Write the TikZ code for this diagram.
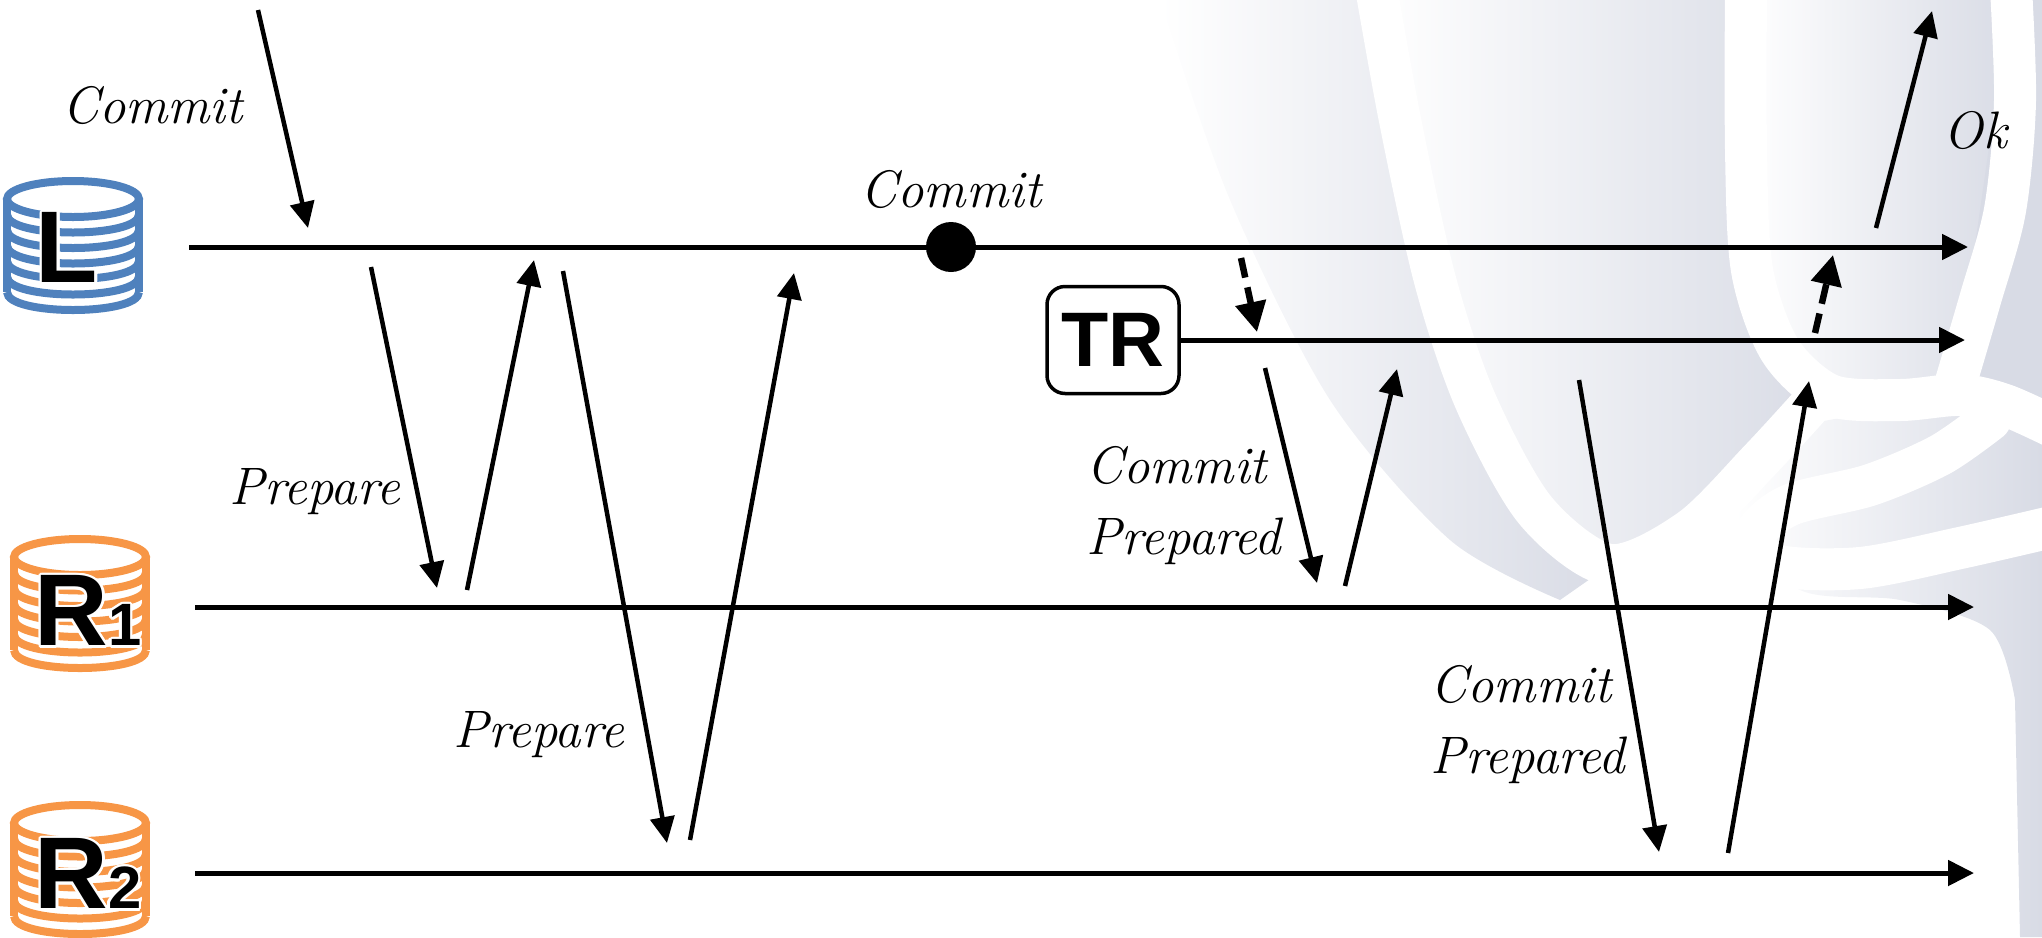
\documentclass[tikz,border=0pt]{standalone}
\usepackage{fontspec}
\newfontfamily\iconfont{Liberation Sans}
\usepackage{contour}
\contourlength{0.25mm}
\usetikzlibrary{arrows.meta,positioning}

\definecolor{dbblue}{RGB}{79,129,189}
\definecolor{dborange}{RGB}{247,150,70}
\definecolor{elegray}{RGB}{216,219,229}

\newcommand\dbfont{\iconfont\bfseries\fontsize{29}{29}\selectfont}
\newcommand\idx[1]{{\fontsize{17}{17}\selectfont #1}}

% stack of discs: top centre x, top centre y, colour
\newcommand\diskstack[3]{%
  \begin{scope}[shift={(#1,#2)}, color=#3, line width=0.8mm]
    \draw (-66,0) -- (-66,93) (66,0) -- (66,93);
    \foreach \k in {1,...,6}
      \draw (-66,15.5*\k) .. controls (-66,15.5*\k+24) and (66,15.5*\k+24) .. (66,15.5*\k);
    \draw[fill=white] (0,0) ellipse [x radius=66, y radius=18];
  \end{scope}}

\tikzset{
  lane/.style={line width=0.5mm, -{Triangle[length=2.6mm,width=2.5mm]}},
  msg/.style={line width=0.45mm, -{Triangle[length=2.6mm,width=2.4mm]}},
  ack/.style={line width=0.65mm, dash pattern=on 2mm off 1mm, -{Triangle[length=3mm,width=3mm]}},
  hand/.style={font=\fontsize{15}{20}\selectfont\itshape, inner sep=2pt, align=left},
  band/.style={draw=white, line width=4.2mm, line cap=round},
}

\begin{document}
\begin{tikzpicture}[x=0.1mm,y=-0.1mm]
  \useasboundingbox (0,0) rectangle (2042,937);

  % faded elephant in the back
  \begin{scope}
    \shade[left color=white, right color=elegray]
      plot[smooth] coordinates {(1373,0) (1400,120) (1435,280) (1475,400) (1535,510) (1610,565)}
      -- plot[smooth] coordinates {(1560,600) (1450,540) (1330,400) (1230,200) (1160,0)} -- cycle;
    \shade[left color=white, right color=elegray]
      plot[smooth] coordinates {(1373,0) (1400,120) (1435,280) (1475,400) (1535,510) (1610,565) (1690,530) (1760,460) (1815,400)}
      -- plot[smooth] coordinates {(1830,395) (1780,350) (1752,270) (1746,150) (1746,0)} -- cycle;
    \shade[left color=white, right color=elegray]
      plot[smooth] coordinates {(1746,0) (1746,150) (1752,270) (1780,350) (1830,395) (1900,400) (1955,385)}
      -- plot[smooth] coordinates {(1980,300) (2005,210) (2015,100) (2010,0)} -- cycle;
    \fill[elegray] (2010,0) -- (2042,0) -- (2042,430) -- (1955,385) -- cycle;
    \shade[left color=white, right color=elegray]
      plot[smooth] coordinates {(1780,430) (1900,410) (2042,420)}
      -- (2042,937) -- (2020,937)
      -- plot[smooth] coordinates {(2015,700) (1990,630) (1900,600) (1800,590) (1735,520)} -- cycle;

    \draw[band] plot[smooth] coordinates {(1373,-30) (1400,120) (1435,280) (1475,400) (1535,510) (1610,565) (1690,530) (1760,460) (1815,400)};
    \draw[band] plot[smooth] coordinates {(1746,-30) (1746,150) (1752,270) (1780,350) (1830,395) (1900,400) (1960,395) (2005,405) (2060,430)};
    \draw[band] plot[smooth] coordinates {(2010,-30) (2015,100) (2005,210) (1980,300) (1955,385)};
    \draw[band] plot[smooth] coordinates {(1990,420) (1940,455) (1870,485) (1790,505) (1755,535) (1775,565) (1860,568) (1960,548) (2060,525)};
  \end{scope}

  % databases
  \diskstack{73}{199}{dbblue}
  \diskstack{80}{557}{dborange}
  \diskstack{80}{823}{dborange}

  \begin{scope}[every node/.style={font=\dbfont, inner sep=0pt}]
    \node (L)  at (67,249) {\contour{white}{L}};
    \node (R1) at (88,612) {\contour{white}{R\idx{1}}};
    \node (R2) at (88,875) {\contour{white}{R\idx{2}}};
  \end{scope}

  \node[draw, rounded corners=1.8mm, line width=0.35mm, minimum width=13.2mm, minimum height=10.7mm,
        font=\iconfont\bfseries\fontsize{22}{22}\selectfont] (TR) at (1113,340) {TR};

  % lanes
  \coordinate (Lin)  at (189,247);  \coordinate (Lout)  at (1968,247);
  \coordinate (R1in) at (195,607);  \coordinate (R1out) at (1974,607);
  \coordinate (R2in) at (195,873);  \coordinate (R2out) at (1974,873);
  \coordinate (TRout) at (1965,340);

  \draw[lane] (Lin) -- (Lout);
  \draw[lane] (TR.east) -- (TRout);
  \draw[lane] (R1in) -- (R1out);
  \draw[lane] (R2in) -- (R2out);

  \node[circle, fill, minimum size=5mm, inner sep=0pt] (cdot) at (951,247) {};
  \node[hand, above=0.5mm of cdot] (clabel) {Commit};

  % message ends
  \coordinate (c0) at (258,10);   \coordinate (c1) at (308,228);
  \coordinate (p1) at (371,267);  \coordinate (p2) at (437,588);
  \coordinate (p3) at (467,590);  \coordinate (p4) at (534,260);
  \coordinate (p5) at (563,271);  \coordinate (p6) at (667,843);
  \coordinate (p7) at (690,840);  \coordinate (p8) at (794,273);
  \coordinate (t1) at (1241,258); \coordinate (t2) at (1257,332);
  \coordinate (q1) at (1265,368); \coordinate (q2) at (1317,583);
  \coordinate (q3) at (1345,586); \coordinate (q4) at (1397,369);
  \coordinate (q5) at (1579,380); \coordinate (q6) at (1659,852);
  \coordinate (q7) at (1728,853); \coordinate (q8) at (1809,381);
  \coordinate (t3) at (1815,333); \coordinate (t4) at (1833,255);
  \coordinate (o1) at (1876,228); \coordinate (o2) at (1932,11);

  \begin{scope}[every node/.style={hand}]
    \draw[msg] (c0) -- node[pos=.44, left=2.8mm] {Commit} (c1);
    \draw[msg] (p1) -- node[pos=.70, left=0.8mm] {Prepare} (p2);
    \draw[msg] (p3) -- (p4);
    \draw[msg] (p5) -- node[pos=.81, left=1.4mm] {Prepare} (p6);
    \draw[msg] (p7) -- (p8);
    \draw[ack] (t1) -- (t2);
    \draw[msg] (q1) -- node[pos=.64, left=0.8mm] {Commit\\Prepared} (q2);
    \draw[msg] (q3) -- (q4);
    \draw[msg] (q5) -- node[pos=.73, left=0.3mm] {Commit\\Prepared} (q6);
    \draw[msg] (q7) -- (q8);
    \draw[ack] (t3) -- (t4);
    \draw[msg] (o1) -- node[pos=.45, right=3.3mm] {Ok} (o2);
  \end{scope}

\end{tikzpicture}
\end{document}
